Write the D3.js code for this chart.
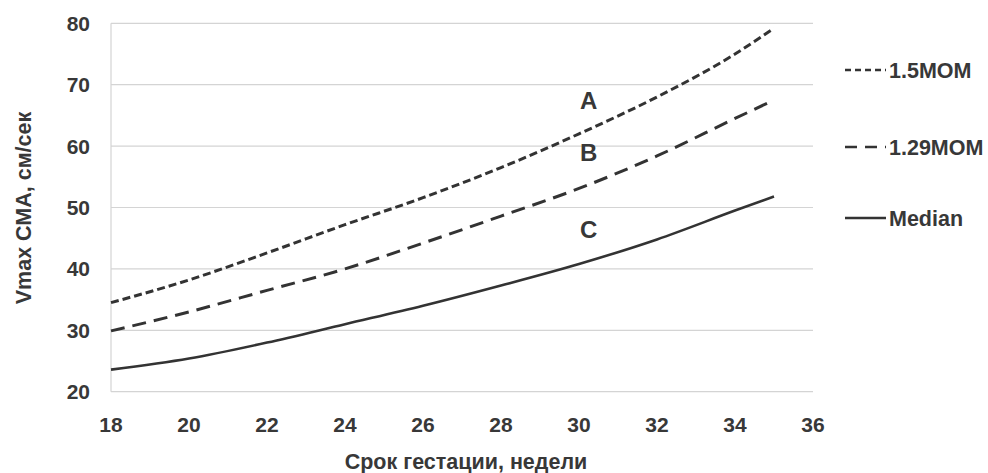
<!DOCTYPE html>
<html>
<head>
<meta charset="utf-8">
<script src="https://cdn.jsdelivr.net/npm/d3@7"></script>
<style>
  body { margin: 0; background: #fff; }
  text { font-family: "Liberation Sans", Arial, sans-serif; font-weight: bold; fill: #383838; }
</style>
</head>
<body>
<div id="chart"></div>
<script>
// gestation weeks
var weeks = [18, 20, 22, 24, 26, 28, 30, 32, 34, 35];
// Vmax MCA, cm/s
var mom15 = [34.5, 38.2, 42.6, 47.2, 51.6, 56.5, 62.0, 68.0, 75.0, 79.2];
var mom129 = [29.9, 33.0, 36.5, 40.0, 44.2, 48.6, 53.1, 58.4, 64.5, 67.5];
var median = [23.6, 25.4, 28.0, 31.0, 34.0, 37.3, 40.8, 44.8, 49.5, 51.8];

var xTicks = [18, 20, 22, 24, 26, 28, 30, 32, 34, 36];
var yTicks = [20, 30, 40, 50, 60, 70, 80];
var seriesNames = ["1.5MOM", "1.29MOM", "Median"];
var curveLabels = ["A", "B", "C"];

var width = 988, height = 473;

var svg = d3.select("#chart").append("svg")
    .attr("width", width)
    .attr("height", height);

var x = d3.scaleLinear().domain([18, 36]).range([111, 813]);
var y = d3.scaleLinear().domain([20, 80]).range([391.7, 23.3]);

// gridlines
svg.append("g").selectAll("line")
    .data(yTicks)
    .enter().append("line")
    .attr("x1", x(18)).attr("x2", x(36))
    .attr("y1", function(d){ return y(d); })
    .attr("y2", function(d){ return y(d); })
    .attr("stroke", "#d4d4d4")
    .attr("stroke-width", 1.2);

// left axis line
svg.append("line")
    .attr("x1", x(18)).attr("x2", x(18))
    .attr("y1", y(80)).attr("y2", y(20))
    .attr("stroke", "#d4d4d4")
    .attr("stroke-width", 1.2);

// y tick labels
svg.append("g").selectAll("text")
    .data(yTicks)
    .enter().append("text")
    .attr("x", 90)
    .attr("y", function(d){ return y(d) + 7.5; })
    .attr("text-anchor", "end")
    .style("font-size", "21px")
    .text(function(d){ return d; });

// x tick labels
svg.append("g").selectAll("text")
    .data(xTicks)
    .enter().append("text")
    .attr("x", function(d){ return x(d); })
    .attr("y", 432)
    .attr("text-anchor", "middle")
    .style("font-size", "21px")
    .text(function(d){ return d; });

// axis titles
svg.append("text")
    .attr("x", 466)
    .attr("y", 469)
    .attr("text-anchor", "middle")
    .style("font-size", "21.5px")
    .text("Срок гестации, недели");

svg.append("text")
    .attr("transform", "translate(31,208) rotate(-90)")
    .attr("text-anchor", "middle")
    .style("font-size", "21.5px")
    .text("Vmax СМА, см/сек");

// lines
var series = [mom15, mom129, median];
var dashes = ["8,4", "14,8", null];
var widths = [3, 3, 2.6];

var line = d3.line()
    .x(function(d){ return x(d[0]); })
    .y(function(d){ return y(d[1]); })
    .curve(d3.curveMonotoneX);

series.forEach(function(vals, i){
    svg.append("path")
        .attr("d", line(weeks.map(function(w, j){ return [w, vals[j]]; })))
        .attr("fill", "none")
        .attr("stroke", "#333")
        .attr("stroke-width", widths[i])
        .attr("stroke-dasharray", dashes[i]);
});

// A / B / C labels
var labelPos = [66, 57.5, 45];
svg.append("g").selectAll("text")
    .data(curveLabels)
    .enter().append("text")
    .attr("x", x(30.25))
    .attr("y", function(d, i){ return y(labelPos[i]); })
    .attr("text-anchor", "middle")
    .style("font-size", "24px")
    .text(function(d){ return d; });

// legend
var legendY = [70, 147, 218];
var lg = svg.append("g").selectAll("g")
    .data(seriesNames)
    .enter().append("g");

lg.append("line")
    .attr("x1", 845).attr("x2", 886)
    .attr("y1", function(d, i){ return legendY[i]; })
    .attr("y2", function(d, i){ return legendY[i]; })
    .attr("stroke", "#333")
    .attr("stroke-width", 2.6)
    .attr("stroke-dasharray", function(d, i){ return i === 0 ? "6,4" : (i === 1 ? "12,8" : null); });

lg.append("text")
    .attr("x", 889)
    .attr("y", function(d, i){ return legendY[i] + 7.5; })
    .style("font-size", "21.5px")
    .text(function(d){ return d; });
</script>
</body>
</html>
